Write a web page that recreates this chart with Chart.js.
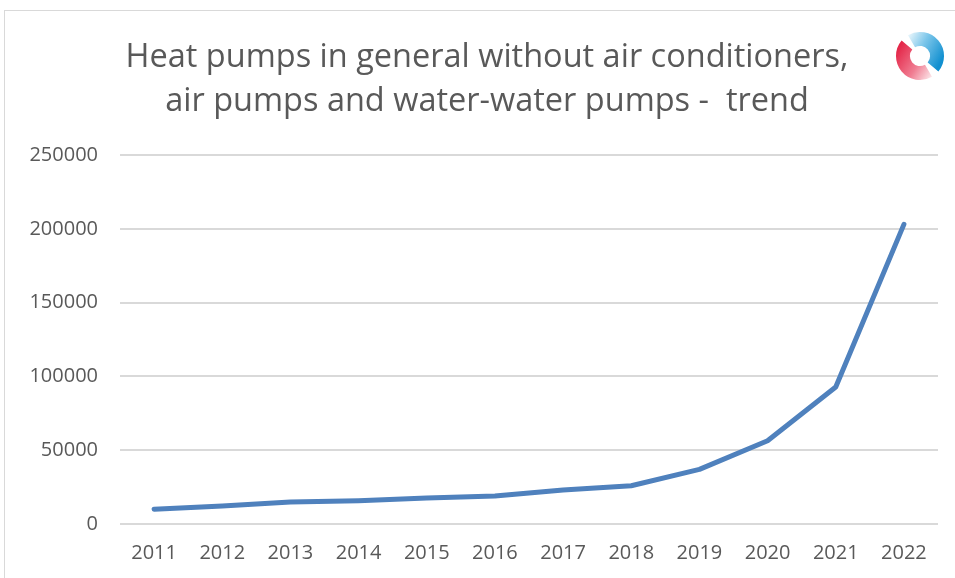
<!DOCTYPE html>
<html>
<head>
<meta charset="utf-8">
<script src="https://cdn.jsdelivr.net/npm/chart.js@4"></script>
<style>
  html, body { margin: 0; padding: 0; background: #fff; }
  #wrap { position: relative; width: 955px; height: 578px; overflow: hidden; }
  #frame { position: absolute; left: 4px; top: 10px; width: 970px; height: 600px; border: 1px solid #d9d9d9; box-sizing: border-box; }
  #title { position: absolute; left: 0; width: 974px; top: 33px; text-align: center; color: #595959;
           font-family: "Open Sans", "Liberation Sans", sans-serif; font-size: 32.5px; line-height: 44px; }
  #logo { position: absolute; left: 893px; top: 29px; }
  canvas { position: absolute; left: 0; top: 0; }
</style>
</head>
<body>
<div id="wrap">
  <div id="frame"></div>
  <canvas id="trendChart" width="955" height="578"></canvas>
  <div id="title"></div>
  <svg id="logo" width="54" height="54" viewBox="0 0 54 54">
    <defs>
      <linearGradient id="gBlue" x1="0" y1="0" x2="1" y2="0.6">
        <stop offset="0" stop-color="#f2fafd"/>
        <stop offset="0.45" stop-color="#7cc6ea"/>
        <stop offset="1" stop-color="#1290d0"/>
      </linearGradient>
      <linearGradient id="gRed" x1="0" y1="0.3" x2="1" y2="1">
        <stop offset="0" stop-color="#e4284a"/>
        <stop offset="0.55" stop-color="#f07d92"/>
        <stop offset="1" stop-color="#fdf0f2"/>
      </linearGradient>
    </defs>
    <path d="M15 6.2 A24 24 0 0 1 45.4 42.4 L34.7 33.4 A10 10 0 0 0 22 18.3 Z" fill="url(#gBlue)"/>
    <path d="M39 47.8 A24 24 0 0 1 8.6 11.6 L19.3 20.6 A10 10 0 0 0 32 35.7 Z" fill="url(#gRed)"/>
  </svg>
</div>
<script>
const years = ['2011', '2012', '2013', '2014', '2015', '2016', '2017', '2018', '2019', '2020', '2021', '2022'];
const pumps = [10000, 12200, 14900, 15800, 17600, 19000, 23000, 25900, 37000, 56400, 92800, 203000];
const yTicks = [0, 50000, 100000, 150000, 200000, 250000];
const titleLines = ['Heat pumps in general without air conditioners,', 'air pumps and water-water pumps -  trend'];

const textColor = '#595959';
const gridColor = '#d9d9d9';
const fontFamily = '"Open Sans", "Liberation Sans", sans-serif';

const titleEl = document.getElementById('title');
titleLines.forEach(line => {
    const div = document.createElement('div');
    div.textContent = line;
    div.style.whiteSpace = 'pre';
    titleEl.appendChild(div);
});

new Chart(document.getElementById('trendChart').getContext('2d'), {
    type: 'line',
    data: {
        labels: years,
        datasets: [{
            data: pumps,
            borderColor: '#4f81bd',
            borderWidth: 5,
            borderCapStyle: 'round',
            borderJoinStyle: 'round',
            pointRadius: 0,
            tension: 0,
            fill: false
        }]
    },
    options: {
        responsive: false,
        animation: false,
        layout: { padding: { left: 0, right: 17, top: 155, bottom: 0 } },
        plugins: {
            legend: { display: false },
            tooltip: { enabled: false }
        },
        scales: {
            x: {
                offset: true,
                grid: { display: false, drawTicks: false },
                border: { display: false },
                ticks: { color: textColor, font: { family: fontFamily, size: 20 }, padding: 17, maxRotation: 0 },
                afterFit: s => { s.height = 54; }
            },
            y: {
                min: 0,
                max: 250000,
                afterBuildTicks: s => { s.ticks = yTicks.map(v => ({ value: v })); },
                grid: { color: gridColor, lineWidth: 2, drawTicks: false },
                border: { display: false },
                ticks: { color: textColor, font: { family: fontFamily, size: 20 }, padding: 22, callback: v => String(v) },
                afterFit: s => { s.width = 120; }
            }
        }
    }
});
</script>
</body>
</html>
